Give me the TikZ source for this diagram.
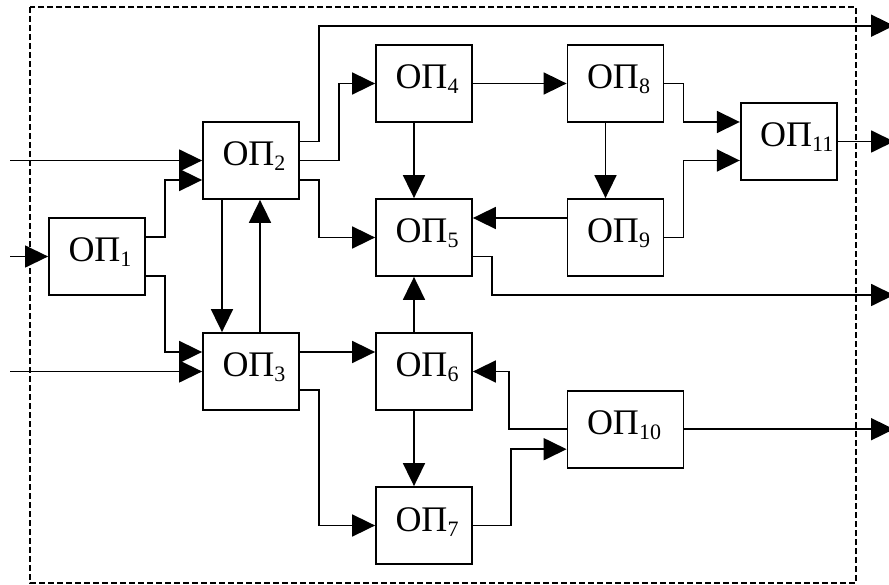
\documentclass[tikz,border=0pt]{standalone}
\usepackage{fontspec}
\setmainfont{Liberation Serif}
\usetikzlibrary{arrows.meta,calc}
\newcommand\opl[1]{\hspace*{19.5pt}ОП\raisebox{-5pt}{\fontsize{22}{22}\selectfont #1}}
\begin{document}
\begin{tikzpicture}[x=1pt,y=-1pt,
  box/.style={draw, line width=1.8pt, minimum height=77pt, inner xsep=0pt, inner ysep=0pt,
    text width=#1, align=left, text height=22pt, text depth=11pt,
    font=\fontsize{36}{40}\selectfont},
  box/.default=96pt,
  arr/.style={line width=1.8pt, -{Triangle[length=23pt,width=22pt]}},
  inarr/.style={line width=1.4pt, -{Triangle[length=23pt,width=22pt]}},
  frame/.style={line width=1.6pt, dash pattern=on 6pt off 3pt}]
\useasboundingbox (0,0) rectangle (889,585);
\draw[frame] (30,7) rectangle (856,583);

\node[box] (op1) at (97,256.5) {\opl{1}};
\node[box] (op2) at (251,160.5) {\opl{2}};
\node[box] (op3) at (251,371.5) {\opl{3}};
\node[box] (op4) at (424,83.5) {\opl{4}};
\node[box] (op5) at (424,237.5) {\opl{5}};
\node[box] (op6) at (424,371.5) {\opl{6}};
\node[box] (op7) at (424,525.5) {\opl{7}};
\node[box] (op8) at (615.5,83.5) {\opl{8}};
\node[box] (op9) at (615.5,237.5) {\opl{9}};
\node[box=116pt] (op10) at (625.5,429.2) {\opl{10}};
\node[box] (op11) at (788.7,141.5) {\opl{11}};

\coordinate (in1) at (10,256.5);
\coordinate (in2) at (10,160.5);
\coordinate (in3) at (10,371.5);
\coordinate (out1) at (894,25.7);
\coordinate (out2) at (894,141.5);
\coordinate (out3) at (894,295);
\coordinate (out4) at (894,429.2);

% inputs
\draw[inarr] (in1) -- (op1.west);
\draw[inarr] (in2) -- (op2.west);
\draw[inarr] (in3) -- (op3.west);

% OP1
\draw[arr] ($(op1.east)+(0,-19.5)$) -- ++(19,0) |- ($(op2.west)+(0,19.5)$);
\draw[arr] ($(op1.east)+(0,19.5)$) -- ++(19,0) |- ($(op3.west)+(0,-19.5)$);

% OP2 <-> OP3
\draw[arr] ($(op2.south)+(-29,0)$) -- ($(op3.north)+(-29,0)$);
\draw[arr] ($(op3.north)+(9,0)$) -- ($(op2.south)+(9,0)$);

% OP2 outputs
\draw[arr] ($(op2.east)+(0,-19)$) -- ++(19,0) |- (out1);
\draw[arr] (op2.east) -- ++(38.7,0) |- (op4.west);
\draw[arr] ($(op2.east)+(0,19.5)$) -- ++(19,0) |- (op5.west);

% OP4
\draw[arr] ($(op4.south)+(-10,0)$) -- ($(op5.north)+(-10,0)$);
\draw[arr] (op4.east) -- (op8.west);

% OP8
\draw[arr] (op8.east) -- ++(19,0) |- ($(op11.west)+(0,-19.5)$);
\draw[arr] ($(op8.south)+(-10,0)$) -- ($(op9.north)+(-10,0)$);

% OP9
\draw[arr] (op9.east) -- ++(19,0) |- ($(op11.west)+(0,19)$);
\draw[arr] ($(op9.west)+(0,-19.5)$) -- ($(op5.east)+(0,-19.5)$);

% OP5, OP11 outputs
\draw[arr] ($(op5.east)+(0,19)$) -- ++(19,0) |- (out3);
\draw[arr] (op11.east) -- (out2);

% OP3
\draw[arr] ($(op3.east)+(0,-19.5)$) -- ($(op6.west)+(0,-19.5)$);
\draw[arr] ($(op3.east)+(0,18.5)$) -- ++(19,0) |- (op7.west);

% OP6
\draw[arr] ($(op6.north)+(-10,0)$) -- ($(op5.south)+(-10,0)$);
\draw[arr] ($(op6.south)+(-10,0)$) -- ($(op7.north)+(-10,0)$);

% OP10, OP7
\draw[arr] (op10.west) -- ++(-57.5,0) |- (op6.east);
\draw[arr] (op7.east) -- ++(38,0) |- ($(op10.west)+(0,20)$);
\draw[arr] (op10.east) -- (out4);
\end{tikzpicture}
\end{document}
